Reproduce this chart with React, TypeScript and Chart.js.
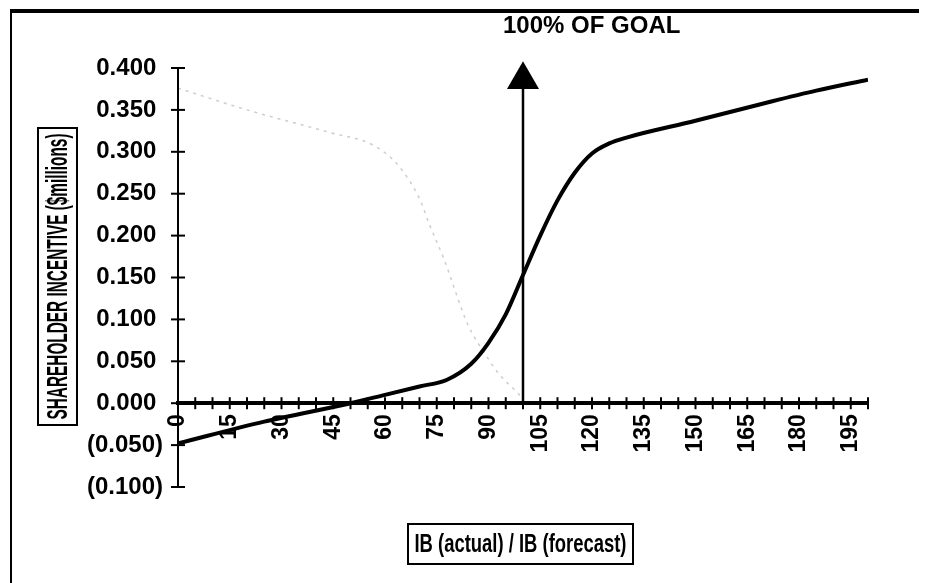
import React, { useEffect, useRef } from "react";
import { Chart, registerables } from "chart.js";

Chart.register(...registerables);

// ---- data ----
const curveX = [0, 25, 50, 60, 70, 78, 85, 90, 95, 100, 105, 110, 115, 120, 125, 130, 150, 170, 185, 200];
const curveY = [-0.048, -0.022, 0.0, 0.01, 0.02, 0.028, 0.047, 0.072, 0.106, 0.153, 0.2, 0.242, 0.275, 0.298, 0.31, 0.317, 0.337, 0.358, 0.373, 0.386];

// faint curve showing through from the back of the page
const ghostX = [0, 20, 44, 57, 64, 70, 73, 77, 84, 89, 93, 98.5, 100];
const ghostY = [0.376, 0.35, 0.323, 0.307, 0.283, 0.244, 0.212, 0.173, 0.094, 0.059, 0.035, 0.012, 0.005];

// 100% of goal arrow
const goalX = [100, 100];
const goalY = [0, 0.386];

const xMin = 0;
const xMax = 200;
const xStep = 5;
const xLabelEvery = 15;
const xLabelMax = 195;
const yMin = -0.1;
const yMax = 0.4;
const yStep = 0.05;

const titleText = "100% OF GOAL";
const yTitleText = "SHAREHOLDER INCENTIVE ($millions)";
const xTitleText = "IB (actual) / IB (forecast)";

const FONT = "'Liberation Sans', Arial, Helvetica, sans-serif";

const toPoints = (xs: number[], ys: number[]) => xs.map((x, i) => ({ x, y: ys[i] }));

const fmtY = (v: number) => {
  const r = Math.round(v * 1000);
  if (r < 0) return "(" + (-r / 1000).toFixed(3) + ")";
  return (r / 1000).toFixed(3) + " ";
};

const decor = {
  id: "decor",
  beforeDatasetsDraw(chart: any) {
    const ctx = chart.ctx;
    const xs = chart.scales.x;
    const ys = chart.scales.y;
    const x0 = xs.getPixelForValue(0);
    const y0 = ys.getPixelForValue(0);
    ctx.save();
    ctx.strokeStyle = "#000";
    ctx.lineWidth = 2;
    xs.ticks.forEach((t: any) => {
      const px = xs.getPixelForValue(t.value);
      ctx.beginPath();
      ctx.moveTo(px, y0 - 6);
      ctx.lineTo(px, y0 + 6);
      ctx.stroke();
    });
    ys.ticks.forEach((t: any) => {
      const py = ys.getPixelForValue(t.value);
      ctx.beginPath();
      ctx.moveTo(x0 - 7, py);
      ctx.lineTo(x0 + 7, py);
      ctx.stroke();
    });
    ctx.restore();
  },
  afterDraw(chart: any) {
    const ctx = chart.ctx;
    const xs = chart.scales.x;
    ctx.save();
    ctx.fillStyle = "#000";
    ctx.strokeStyle = "#000";
    // page frame
    ctx.fillRect(2, 1, chart.width - 2, 4);
    ctx.fillRect(2, 1, 2, chart.height);

    // title over the goal arrow
    ctx.font = `bold 24px ${FONT}`;
    ctx.textAlign = "left";
    ctx.textBaseline = "alphabetic";
    ctx.fillText(titleText, xs.getPixelForValue(100) - 20, 25);

    // y axis title in a box
    ctx.lineWidth = 2;
    ctx.strokeRect(30, 120, 39, 297);
    ctx.save();
    ctx.translate(50, 268.5);
    ctx.rotate(-Math.PI / 2);
    ctx.font = `bold 30px ${FONT}`;
    const wy = ctx.measureText(yTitleText).width;
    ctx.scale(286 / wy, 1);
    ctx.textAlign = "center";
    ctx.textBaseline = "middle";
    ctx.fillText(yTitleText, 0, 1);
    ctx.restore();

    // x axis title in a box
    ctx.strokeRect(400, 516, 225, 40);
    ctx.save();
    ctx.translate(512.5, 537);
    ctx.font = `bold 26px ${FONT}`;
    const wx = ctx.measureText(xTitleText).width;
    ctx.scale(212 / wx, 1);
    ctx.textAlign = "center";
    ctx.textBaseline = "middle";
    ctx.fillText(xTitleText, 0, 0);
    ctx.restore();

    ctx.restore();
  },
};

export default function App() {
  const ref = useRef<HTMLCanvasElement | null>(null);

  useEffect(() => {
    if (!ref.current) return;
    const chart = new Chart(ref.current, {
      type: "line",
      data: {
        datasets: [
          {
            label: "Shareholder incentive",
            data: toPoints(curveX, curveY),
            borderColor: "#000",
            borderWidth: 4,
            pointRadius: 0,
            cubicInterpolationMode: "monotone",
            fill: false,
          },
          {
            label: "100% of goal",
            data: toPoints(goalX, goalY),
            borderColor: "#000",
            borderWidth: 2.5,
            pointRadius: [0, 18.5],
            pointStyle: "triangle",
            pointBackgroundColor: "#000",
            pointBorderColor: "#000",
            pointBorderWidth: 0,
            clip: false,
            fill: false,
          },
          {
            label: "show-through",
            data: toPoints(ghostX, ghostY),
            borderColor: "rgba(0,0,0,0.2)",
            borderWidth: 1.5,
            borderDash: [3, 5],
            pointRadius: 0,
            cubicInterpolationMode: "monotone",
            fill: false,
          },
        ],
      },
      options: {
        animation: false,
        responsive: false,
        devicePixelRatio: 1,
        events: [],
        layout: { padding: { left: 10, top: 60, right: 59, bottom: 96 } },
        plugins: {
          legend: { display: false },
          tooltip: { enabled: false },
          title: { display: false },
        },
        scales: {
          x: {
            type: "linear",
            min: xMin,
            max: xMax,
            position: { y: 0 } as any,
            grid: { drawOnChartArea: false, drawTicks: false },
            border: { display: true, color: "#000", width: 4 },
            ticks: {
              stepSize: xStep,
              autoSkip: false,
              minRotation: 90,
              maxRotation: 90,
              padding: 11,
              color: "#000",
              font: { family: FONT, size: 23, weight: "bold" },
              callback: (v: any) => {
                const n = Math.round(Number(v));
                return n % xLabelEvery === 0 && n <= xLabelMax ? String(n) : "";
              },
            },
            afterFit: (s: any) => {
              s.paddingLeft = 0;
              s.paddingRight = 0;
            },
          },
          y: {
            type: "linear",
            min: yMin,
            max: yMax,
            position: "left",
            grid: { drawOnChartArea: false, drawTicks: false },
            border: { display: true, color: "#000", width: 2 },
            ticks: {
              stepSize: yStep,
              padding: 15,
              color: "#000",
              font: { family: FONT, size: 24, weight: "bold" },
              callback: (v: any) => fmtY(Number(v)),
            },
            afterFit: (s: any) => {
              s.width = 160;
              s.paddingTop = 0;
              s.paddingBottom = 0;
            },
          },
        },
      },
      plugins: [decor],
    });
    return () => chart.destroy();
  }, []);

  return (
    <div style={{ width: 919, height: 575 }}>
      <canvas ref={ref} width={919} height={575} style={{ display: "block" }} />
    </div>
  );
}
